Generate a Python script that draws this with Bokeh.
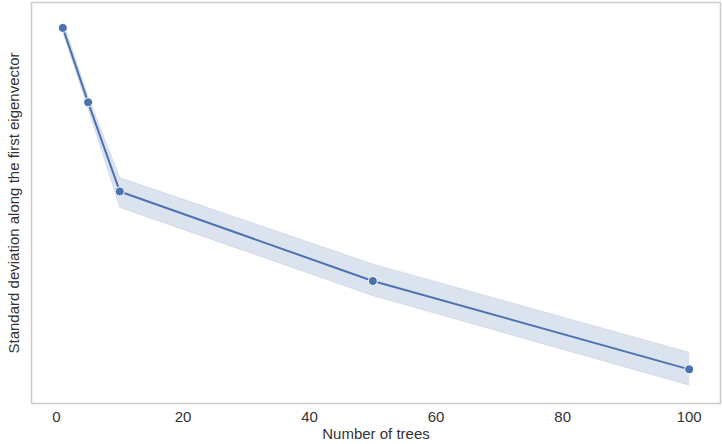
from bokeh.plotting import figure
from bokeh.models import Range1d, FixedTicker, ColumnDataSource
from bokeh.embed import file_html
from bokeh.resources import INLINE

# data
n_trees = [1, 5, 10, 50, 100]
std_mean = [0.940, 0.753, 0.529, 0.304, 0.082]
std_low = [0.928, 0.736, 0.489, 0.267, 0.042]
std_high = [0.958, 0.768, 0.564, 0.347, 0.125]
x_ticks = [0, 20, 40, 60, 80, 100]

blue = "#4c72b0"
font = "Liberation Sans"
txt = "#333333"

xr = max(n_trees) - min(n_trees)
yr = max(std_high) - min(std_low)
p = figure(width=722, height=444, output_backend="svg", toolbar_location=None,
           x_range=Range1d(min(n_trees) - 0.05 * xr, max(n_trees) + 0.05 * xr),
           y_range=Range1d(min(std_low) - 0.05 * yr, max(std_high) + 0.05 * yr),
           min_border_left=31, min_border_right=2, min_border_top=2, min_border_bottom=41)
p.background_fill_color = "white"
p.border_fill_color = "white"
p.outline_line_color = "#cccccc"
p.outline_line_width = 1.5
p.grid.visible = False

src = ColumnDataSource(dict(x=n_trees, y=std_mean, lo=std_low, hi=std_high))
p.varea(x="x", y1="lo", y2="hi", source=src, fill_color=blue, fill_alpha=0.2)
p.line(x="x", y="lo", source=src, line_color=blue, line_alpha=0.12, line_width=1)
p.line(x="x", y="hi", source=src, line_color=blue, line_alpha=0.12, line_width=1)
p.line(x="x", y="y", source=src, line_color=blue, line_width=2)
p.scatter(x="x", y="y", source=src, size=9, fill_color=blue, line_color="white", line_width=1)

for ax in (p.xaxis, p.yaxis):
    ax.axis_line_color = None
    ax.major_tick_line_color = None
    ax.minor_tick_line_color = None
    ax.major_tick_out = 0
    ax.major_tick_in = 0
    ax.minor_tick_out = 0
    ax.minor_tick_in = 0
    ax.axis_label_text_font = font
    ax.axis_label_text_font_size = "15px"
    ax.axis_label_text_font_style = "normal"
    ax.axis_label_text_color = txt

p.xaxis.ticker = FixedTicker(ticks=x_ticks)
p.xaxis.major_label_standoff = 8
p.xaxis.major_label_text_font = font
p.xaxis.major_label_text_font_size = "15px"
p.xaxis.major_label_text_color = txt
p.xaxis.axis_label = "Number of trees"
p.xaxis.axis_label_standoff = 0

p.yaxis.ticker = FixedTicker(ticks=[])
p.yaxis.major_label_text_font_size = "0px"
p.yaxis.major_label_standoff = 0
p.yaxis.axis_label = "Standard deviation along the first eigenvector"
p.yaxis.axis_label_standoff = 10

open("out.html", "w").write(file_html(p, INLINE))
